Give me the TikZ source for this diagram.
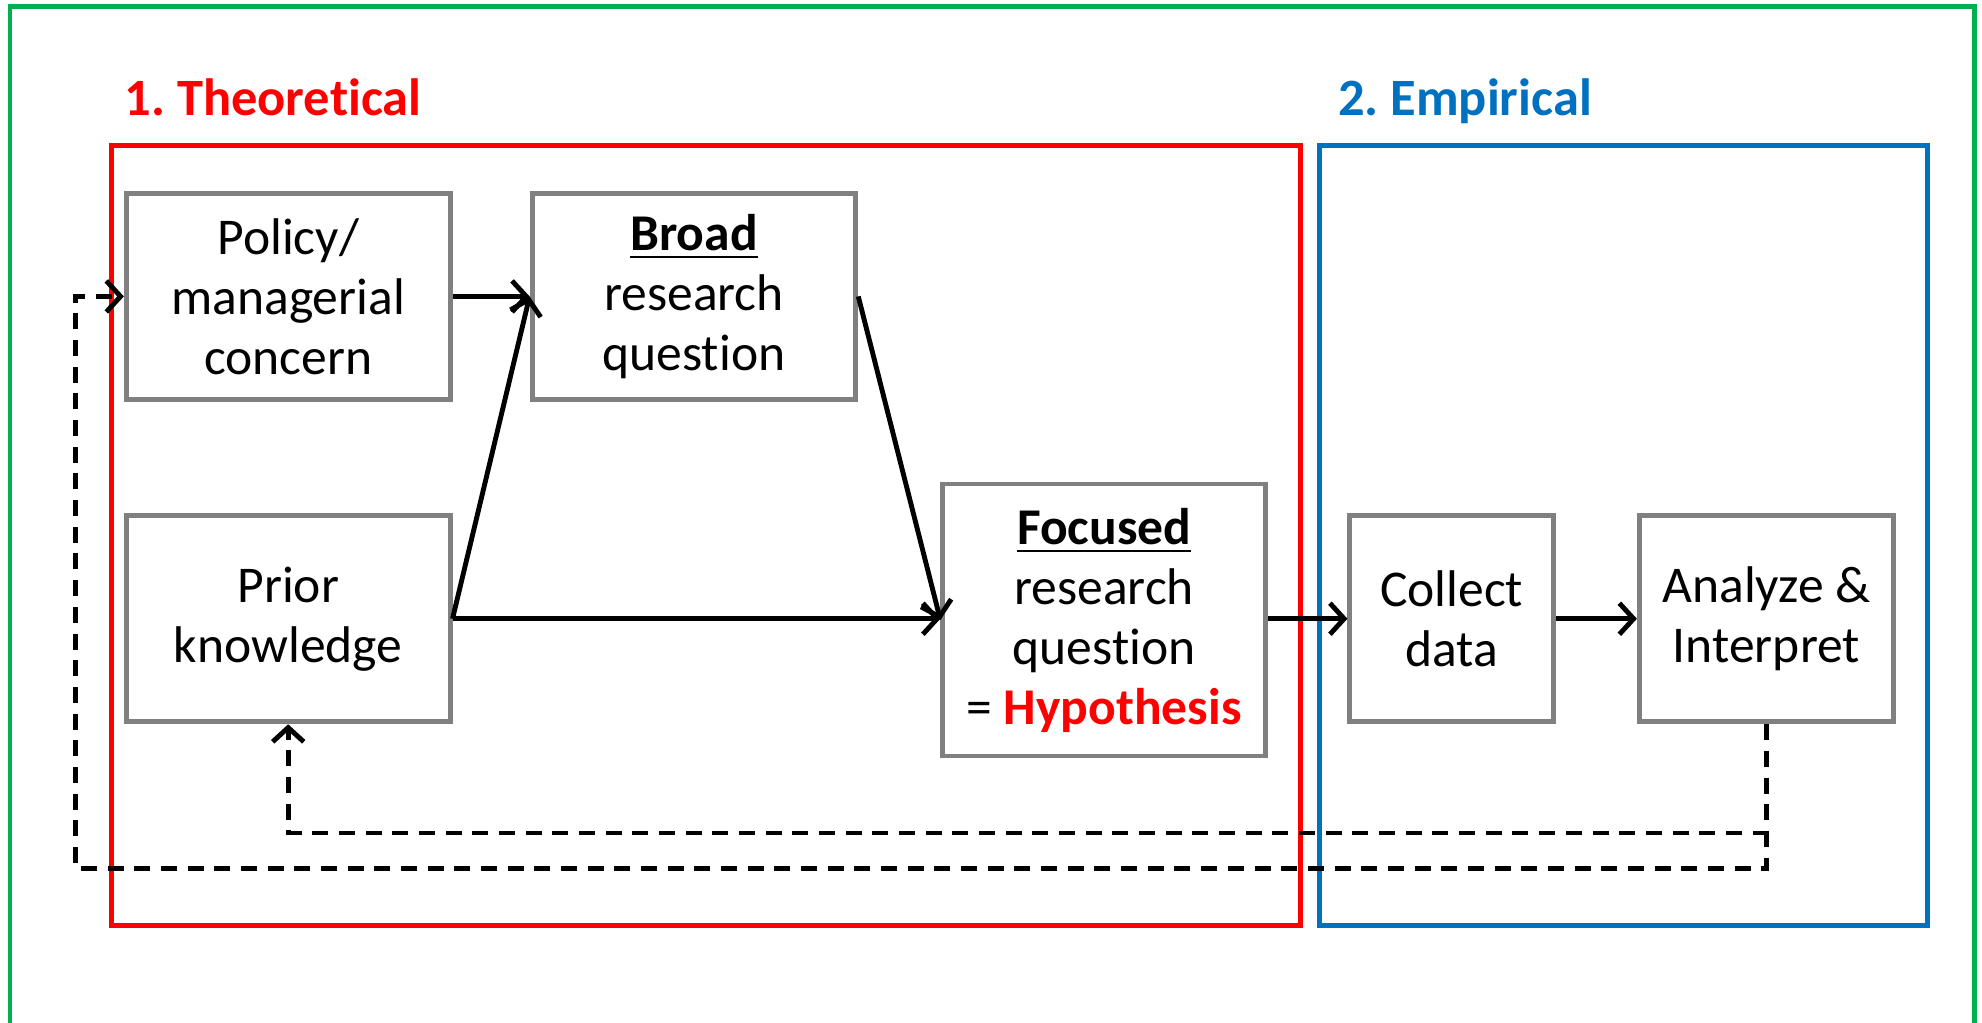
\documentclass[tikz,border=0pt]{standalone}
\usepackage{fontspec}
\setmainfont{Carlito}[Ligatures=NoCommon]
\usetikzlibrary{arrows.meta}
\definecolor{tred}{HTML}{FF0000}
\definecolor{tblue}{HTML}{0070C0}
\definecolor{tgreen}{HTML}{00B050}
\definecolor{boxgray}{HTML}{808080}
\tikzset{
 box/.style={draw=boxgray,line width=1.1pt,fill=white,align=center,inner sep=0pt,
   font=\fontsize{11.6}{13.5}\selectfont},
 tip/.style={-{Straight Barb[length=3.2pt,width=7pt,line width=1.1pt]}},
 arr/.style={line width=1.1pt,tip},
 dsh/.style={line width=1.1pt,dash pattern=on 3.6pt off 2.4pt},
 title/.style={anchor=base west,inner sep=0pt,font=\bfseries\fontsize{11.8}{14}\selectfont},
 frame/.style={line width=1.1pt}
}
\begin{document}
\frenchspacing
\begin{tikzpicture}[x=0.01cm,y=-0.01cm]
\useasboundingbox (0,0) rectangle (1568,809);
% outer green frame
\draw[tgreen,line width=1pt] (8,820) -- (8,5) -- (1562,5) -- (1562,820);
% group frames
\draw[frame,tred] (88,115) rectangle (1029,732);
\draw[frame,tblue] (1044,115) rectangle (1525,732);
\node[title,text=tred] (t1) at (98,91) {1. Theoretical};
\node[title,text=tblue] (t2) at (1058,91) {2. Empirical};
% boxes
\node[box,minimum width=2.56cm,minimum height=1.63cm] (pol) at (228,234.5) {Policy/\\managerial\\concern};
\node[box,minimum width=2.56cm,minimum height=1.63cm] (brd) at (549,234.5) {\underline{\textbf{Broad}}\\research\\question};
\node[box,minimum width=2.56cm,minimum height=1.63cm] (pri) at (228,489.5) {Prior\\knowledge};
\node[box,minimum width=2.55cm,minimum height=2.15cm] (foc) at (873.5,490.5) {\underline{\textbf{Focused}}\\research\\question\\= \textcolor{tred}{\textbf{Hypothesis}}};
\node[box,minimum width=1.61cm,minimum height=1.63cm] (col) at (1148.5,489.5) {Collect\\data};
\node[box,minimum width=2.01cm,minimum height=1.63cm] (ana) at (1397.5,489.5) {Analyze \&\\Interpret};
% solid arrows
\draw[arr] (pol.east) -- (brd.west);
\draw[arr] (pri.east) -- (brd.west);
\draw[arr] (pri.east) -- (foc.west |- pri.east);
\draw[arr] (brd.east) -- (foc.west);
\draw[arr] (foc.east |- col.west) -- (col.west);
\draw[arr] (col.east) -- (ana.west);
% dashed feedback
\coordinate (c1) at (60,687);
\coordinate (c2) at (228,659);
\draw[dsh,tip] (ana.south) |- (c1) |- (pol.west);
\draw[dsh,tip] (ana.south) |- (c2) -- (pri.south);
\end{tikzpicture}
\end{document}
